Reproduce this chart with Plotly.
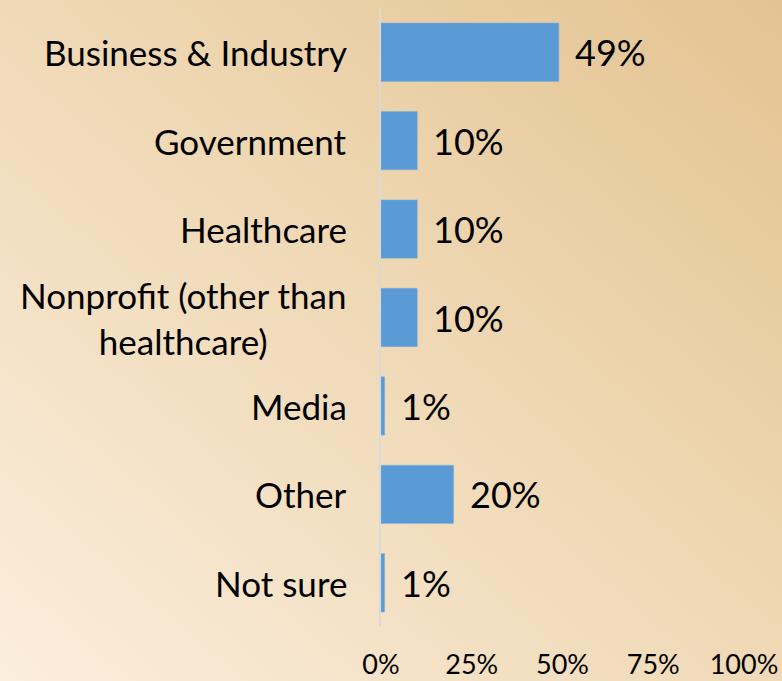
import base64
import plotly.graph_objects as go

# Survey results: sector of employment
categories = [
    "Business & Industry",
    "Government",
    "Healthcare",
    "Nonprofit (other than<br>healthcare)",
    "Media",
    "Other",
    "Not sure",
]
shares = [49, 10, 10, 10, 1, 20, 1]
x_ticks = [0, 25, 50, 75, 100]
x_tick_labels = ["0%", "25%", "50%", "75%", "100%"]

W, H = 782, 681
ML, MR, MT, MB = 381, 38, 8, 54
PW, PH = W - ML - MR, H - MT - MB

FONT = "Lato, 'Open Sans', sans-serif"
BAR = "#5B9BD5"

# Warm tan diagonal gradient for the slide background
svg = f"""<svg xmlns='http://www.w3.org/2000/svg' width='{W}' height='{H}' viewBox='0 0 {W} {H}' preserveAspectRatio='none'>
<defs><linearGradient id='g' x1='1' y1='0' x2='0' y2='1'>
<stop offset='0' stop-color='#E3C391'/>
<stop offset='0.4' stop-color='#EDD5AF'/>
<stop offset='1' stop-color='#FBEEDC'/>
</linearGradient></defs>
<rect width='{W}' height='{H}' fill='url(#g)'/></svg>"""
bg_uri = "data:image/svg+xml;base64," + base64.b64encode(svg.encode()).decode()

fig = go.Figure(
    go.Bar(
        x=shares,
        y=categories,
        orientation="h",
        marker=dict(color=BAR, line=dict(color="#7FB0DE", width=0.5)),
        width=0.66,
        hoverinfo="skip",
    )
)

# Value labels to the right of each bar
for cat, val in zip(categories, shares):
    fig.add_annotation(
        x=val, y=cat, xref="x", yref="y",
        text=f"{val}%", showarrow=False,
        xanchor="left", yanchor="middle", xshift=14,
        font=dict(family=FONT, size=36, color="#000000"),
    )

# Category labels, centred when wrapped over two lines
for cat in categories:
    fig.add_annotation(
        x=0, y=cat, xref="paper", yref="y",
        text=cat, showarrow=False, align="center",
        xanchor="right", yanchor="middle", xshift=-32,
        font=dict(family=FONT, size=35, color="#000000"),
    )

fig.update_layout(
    width=W, height=H,
    margin=dict(l=ML, r=MR, t=MT, b=MB, autoexpand=False),
    paper_bgcolor="rgba(0,0,0,0)",
    plot_bgcolor="rgba(0,0,0,0)",
    showlegend=False,
    images=[dict(
        source=bg_uri, xref="paper", yref="paper",
        x=-ML / PW, y=1 + MT / PH, sizex=W / PW, sizey=H / PH,
        xanchor="left", yanchor="top", sizing="stretch", layer="below",
    )],
    xaxis=dict(
        range=[0, 100], tickvals=x_ticks, ticktext=x_tick_labels,
        showgrid=False, zeroline=False, showline=False, ticks="",
        tickfont=dict(family=FONT, size=27, color="#000000"),
        ticklabelstandoff=19, automargin=False,
    ),
    yaxis=dict(
        categoryorder="array", categoryarray=categories[::-1],
        showticklabels=False, showgrid=False, zeroline=False,
        showline=True, linecolor="#D9D9D9", linewidth=2, ticks="",
        automargin=False,
    ),
)

fig.write_html("out.html")
